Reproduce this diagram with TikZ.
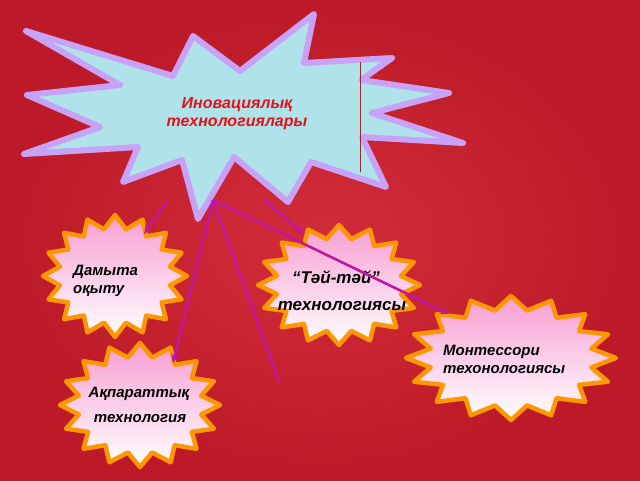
\documentclass[tikz,border=0pt]{standalone}
\usepackage{fontspec}
\setmainfont{Liberation Sans}
\usetikzlibrary{arrows.meta}

\definecolor{bgin}{RGB}{210,44,58}
\definecolor{bgout}{RGB}{188,26,40}
\definecolor{icecyan}{RGB}{176,226,234}
\definecolor{lavender}{RGB}{200,162,246}
\definecolor{starorange}{RGB}{255,152,0}
\definecolor{starpink}{RGB}{247,158,210}
\definecolor{linkmag}{RGB}{192,22,160}
\definecolor{titlered}{RGB}{228,18,24}

% small orange bursts: center x, center y, x radius, y radius
\newcommand{\starburst}[4]{%
  \pgfmathsetmacro{\rxi}{0.78*#3}
  \pgfmathsetmacro{\ryi}{0.78*#4}
  \begin{scope}[shift={(#1,#2)}]
    \draw[smallstar] (0:#3 and #4)
      \foreach \a in {0,22.5,...,337.5} {
        -- ({\a+11.25}:{\rxi} and {\ryi}) -- ({\a+22.5}:#3 and #4)
      } -- cycle;
  \end{scope}
}

\begin{document}
\begin{tikzpicture}[x=1pt,y=-1pt,
    smallstar/.style={draw=starorange,line width=4.5pt,line join=round,
      top color=starpink,bottom color=white},
    bigstar/.style={draw=lavender,fill=icecyan,line width=6pt,line join=round},
    label/.style={inner sep=0pt,font=\fontsize{15}{18}\selectfont\bfseries\itshape},
    conn/.style={draw=linkmag,line width=2.6pt,-{Stealth[length=9pt,width=8pt]}},
    connfree/.style={draw=linkmag,line width=2.6pt}]

  \useasboundingbox (0,0) rectangle (640,480);
  \shade[inner color=bgin,outer color=bgout] (0,0) rectangle (640,480);

  % big burst
  \draw[bigstar]
       (26,31) -- (173,76) -- (193,36) -- (240,71) -- (314,14)
    -- (304,63) -- (392,58) -- (361,80) -- (449,93) -- (372,113)
    -- (463,143) -- (362,137) -- (386,187) -- (311,162) -- (288,202)
    -- (234,157) -- (198,219) -- (182,160) -- (123,182) -- (138,147)
    -- (24,154) -- (100,127) -- (27,95) -- (120,85) -- cycle;
  \draw[draw={rgb,255:red,150;green,40;blue,40},line width=0.7pt] (360,62) -- (360,172);

  \node[label,font=\fontsize{16}{19}\selectfont\bfseries\itshape,text=titlered,anchor=base] (title1) at (237,108) {Иновациялық};
  \node[label,font=\fontsize{16}{19}\selectfont\bfseries\itshape,text=titlered,anchor=base] (title2) at (237,126) {технологиялары};

  % small bursts
  \starburst{115}{276}{72}{61}
  \starburst{339}{285}{81}{60}
  \starburst{511}{358}{105}{62}
  \starburst{140}{405}{80}{62}

  \node[label,anchor=base west] (dam1) at (73,275) {Дамыта};
  \node[label,anchor=base west] (dam2) at (73,293) {оқыту};

  \node[label,font=\fontsize{17}{20}\selectfont\bfseries\itshape,anchor=base] (tay1) at (336,283) {“Тәй-тәй”};
  \node[label,font=\fontsize{17}{20}\selectfont\bfseries\itshape,anchor=base] (tay2) at (342,310) {технологиясы};

  \node[label,anchor=base west] (mon1) at (443,355) {Монтессори};
  \node[label,anchor=base west] (mon2) at (443,373) {техонологиясы};

  \node[label,anchor=base] (akp1) at (139,397) {Ақпараттық};
  \node[label,anchor=base] (akp2) at (140,422) {технология};

  % connectors
  \coordinate (fan) at (213,200);
  \coordinate (srcA) at (167,201);
  \coordinate (srcB) at (264,200);
  \coordinate (damEnd) at (144,234);
  \coordinate (akpEnd) at (173,363);
  \coordinate (freeEnd) at (279,381);
  \coordinate (monEnd) at (449,314);
  \coordinate (tayEnd) at (304,234);

  \draw[conn] (srcA) -- (damEnd);
  \draw[conn] (fan) -- (akpEnd);
  \draw[connfree] (fan) -- (freeEnd);
  \draw[conn] (fan) -- (monEnd);
  \draw[conn] (srcB) -- (tayEnd);

\end{tikzpicture}
\end{document}
